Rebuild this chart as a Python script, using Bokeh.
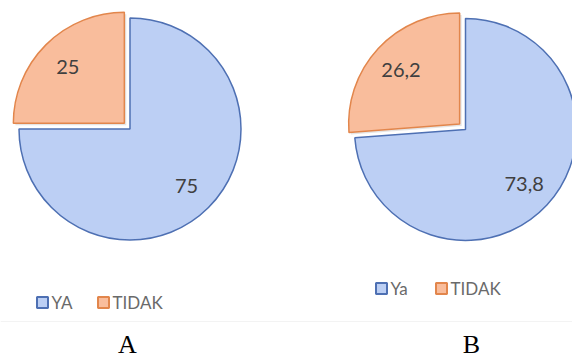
import math
from bokeh.plotting import figure
from bokeh.models import Range1d
from bokeh.core.properties import value
from bokeh.embed import file_html
from bokeh.resources import INLINE

# ---- data ----
chart_names = ["A", "B"]
categories_A = ["YA", "TIDAK"]
categories_B = ["Ya", "TIDAK"]
values_A = [75, 25]
values_B = [73.8, 26.2]
labels_A = ["75", "25"]
labels_B = ["73,8", "26,2"]

# ---- layout / style ----
W, H = 572, 359
FILL = ["#bccff4", "#f9bd9c"]
LINE = ["#4e70b3", "#e2864c"]
pies = [
    dict(name=chart_names[0], cats=categories_A, vals=values_A, labs=labels_A,
         cx=129.5, cy=128.5, r=111, leg_x=36, leg_y=302, leg_gap=[0, 61], caption_x=127),
    dict(name=chart_names[1], cats=categories_B, vals=values_B, labs=labels_B,
         cx=465, cy=129, r=111, leg_x=375, leg_y=288, leg_gap=[0, 60], caption_x=471),
]
EXPLODE = 8
LABEL_FRAC = 0.72


def Y(y):
    return H - y


p = figure(width=W, height=H, x_range=Range1d(0, W), y_range=Range1d(0, H),
           output_backend="svg", toolbar_location=None,
           x_axis_location=None, y_axis_location=None, min_border=0)
p.grid.visible = False
p.outline_line_color = None
p.background_fill_color = "white"

# faint separator line
p.line(x=[0, W], y=[Y(321), Y(321)], line_color="#f3f3f3", line_width=1)

for pie in pies:
    total = sum(pie["vals"])
    cx, cy, r = pie["cx"], Y(pie["cy"]), pie["r"]
    # slice 0 (blue): clockwise from 12 o'clock
    f0 = pie["vals"][0] / total
    a0s, a0e = math.pi / 2, math.pi / 2 - 2 * math.pi * f0
    p.wedge(x=[cx], y=[cy], radius=r, start_angle=a0s, end_angle=a0e, direction="clock",
            fill_color=FILL[0], line_color=LINE[0], line_width=1.5)
    mid0 = (a0s + a0e) / 2
    p.text(x=[cx + LABEL_FRAC * r * math.cos(mid0)], y=[cy + LABEL_FRAC * r * math.sin(mid0)],
           text=[pie["labs"][0]], text_align="center", text_baseline="middle",
           text_font=value("Lato"), text_font_size="20px", text_color="#404040")
    # slice 1 (orange): exploded
    f1 = pie["vals"][1] / total
    a1s, a1e = a0e, a0e - 2 * math.pi * f1
    mid1 = (a1s + a1e) / 2
    ox, oy = cx + EXPLODE * math.cos(mid1), cy + EXPLODE * math.sin(mid1)
    p.wedge(x=[ox + 2], y=[oy - 2], radius=r, start_angle=a1s, end_angle=a1e, direction="clock",
            fill_color="#999999", fill_alpha=0.25, line_color=None)
    p.wedge(x=[ox], y=[oy], radius=r, start_angle=a1s, end_angle=a1e, direction="clock",
            fill_color=FILL[1], line_color=LINE[1], line_width=1.5)
    p.text(x=[ox + LABEL_FRAC * r * math.cos(mid1)], y=[oy + LABEL_FRAC * r * math.sin(mid1)],
           text=[pie["labs"][1]], text_align="center", text_baseline="middle",
           text_font=value("Lato"), text_font_size="20px", text_color="#404040")
    # legend
    for i, cat in enumerate(pie["cats"]):
        lx = pie["leg_x"] + pie["leg_gap"][i]
        p.rect(x=[lx + 6], y=[Y(pie["leg_y"])], width=11, height=11,
               fill_color=FILL[i], line_color=LINE[i], line_width=2)
        p.text(x=[lx + 15], y=[Y(pie["leg_y"])], text=[cat], text_align="left",
               text_baseline="middle", text_font=value("Lato"), text_font_size="17px",
               text_color="#6a6a6a")
    # caption
    p.text(x=[pie["caption_x"]], y=[Y(344)], text=[pie["name"]], text_align="center",
           text_baseline="middle", text_font=value("Liberation Serif"), text_font_size="26px",
           text_color="#000000")

open("out.html", "w").write(file_html(p, INLINE))
